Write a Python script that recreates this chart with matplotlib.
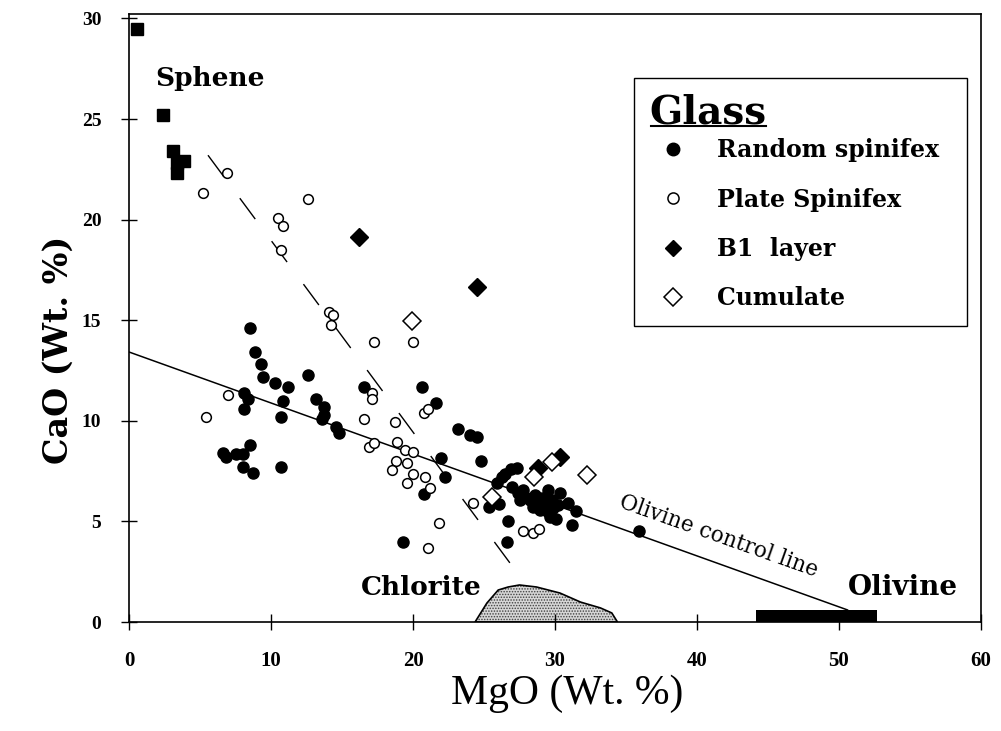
import matplotlib.pyplot as plt
from matplotlib.lines import Line2D

# --- data (MgO, CaO in wt. %) ---
sphene_mgo = [0.56, 2.39, 3.1, 3.87, 3.38, 3.38]
sphene_cao = [29.47, 25.2, 23.4, 22.9, 22.8, 22.3]

random_mgo = [8.5, 8.9, 9.3, 9.4, 10.3, 11.2, 12.6, 8.1, 8.4, 8.1,
              10.85, 10.7, 13.2, 13.7, 13.7, 13.6, 14.6, 14.8, 8.5, 6.6,
              6.8, 7.5, 8.0, 8.0, 8.7, 10.7, 16.55, 20.6, 21.6, 23.2,
              24.0, 24.5, 22.0, 24.8, 22.25, 20.8, 19.3, 25.9, 25.35, 26.05,
              26.7, 26.6, 26.9, 27.3, 26.5, 30.35, 30.9, 31.5, 31.2, 30.1,
              35.9, 27.0, 27.4, 27.75, 27.9, 28.25, 28.6, 28.8, 29.1, 29.3,
              29.5, 29.8, 29.85, 29.65, 28.95, 28.45, 27.55, 30.2, 29.5, 26.3]
random_cao = [14.6, 13.4, 12.8, 12.2, 11.9, 11.7, 12.3, 11.4, 11.1, 10.6,
              11.0, 10.2, 11.1, 10.7, 10.3, 10.1, 9.7, 9.4, 8.8, 8.4,
              8.2, 8.35, 8.35, 7.7, 7.4, 7.7, 11.7, 11.7, 10.9, 9.6,
              9.3, 9.2, 8.15, 8.0, 7.2, 6.35, 4.0, 6.9, 5.7, 5.85,
              5.0, 4.0, 7.6, 7.65, 7.35, 6.4, 5.9, 5.5, 4.8, 5.1,
              4.5, 6.7, 6.4, 6.55, 6.2, 6.05, 6.3, 5.9, 6.15, 5.75,
              5.45, 6.05, 5.65, 5.2, 5.55, 5.7, 6.05, 5.8, 6.55, 7.2]

plate_mgo = [6.9, 5.2, 12.6, 10.5, 10.85, 10.7, 14.1, 14.4, 14.2, 7.0,
             5.4, 17.25, 20.0, 17.1, 17.1, 16.55, 18.7, 20.8, 21.05, 16.9,
             17.25, 18.9, 19.45, 20.0, 18.8, 19.6, 18.5, 20.0, 19.6, 20.85,
             21.2, 21.8, 21.05, 24.2, 27.75, 28.45, 28.85]
plate_cao = [22.3, 21.3, 21.0, 20.1, 19.7, 18.5, 15.4, 15.25, 14.75, 11.3,
             10.2, 13.9, 13.9, 11.4, 11.1, 10.1, 9.95, 10.4, 10.6, 8.7,
             8.9, 8.95, 8.55, 8.45, 8.0, 7.9, 7.55, 7.35, 6.9, 7.2,
             6.65, 4.9, 3.7, 5.9, 4.5, 4.4, 4.6]

b1_mgo = [16.2, 24.5, 28.8, 30.35]
b1_cao = [19.13, 16.65, 7.65, 8.2]

cumulate_mgo = [19.93, 25.56, 28.52, 29.79, 32.25]
cumulate_cao = [14.96, 6.21, 7.21, 7.95, 7.31]

control_mgo = [0.0, 50.6]
control_cao = [13.42, 0.6]

tie_mgo = [5.56, 26.83]
tie_cao = [23.2, 2.93]

chlorite_mgo = [24.37, 25.2, 26.0, 26.7, 27.5, 28.7, 30.35, 31.8, 33.2, 34.0, 34.4]
chlorite_cao = [0.0, 0.94, 1.59, 1.74, 1.84, 1.74, 1.44, 0.99, 0.70, 0.45, 0.0]

olivine_mgo = [44.15, 52.68]
olivine_cao = 0.6

serif = 'DejaVu Serif'
plt.rcParams['hatch.linewidth'] = 0.7

fig = plt.figure(figsize=(10.01, 7.31), dpi=100)
ax = fig.add_axes([0.1289, 0.1491, 0.8511, 0.8312])
ax.set_xlim(0, 60)
ax.set_ylim(0, 30.2)

# chlorite field (stippled) and olivine bar
ax.fill(chlorite_mgo, chlorite_cao, facecolor='#d6d6d6', edgecolor='#404040',
        hatch='......', linewidth=0, zorder=1)
ax.fill(chlorite_mgo, chlorite_cao, fill=False, edgecolor='black', linewidth=1.2, zorder=2)
ax.bar(olivine_mgo[0], olivine_cao, width=olivine_mgo[1] - olivine_mgo[0],
       align='edge', color='black', zorder=3)

# olivine control line and tie-line trend
ax.plot(control_mgo, control_cao, color='black', lw=1.1, zorder=2)
ax.plot(tie_mgo, tie_cao, color='black', lw=1.0, dashes=(18.7, 19.8), zorder=2)

ax.plot(sphene_mgo, sphene_cao, ls='none', marker='s', ms=9, color='black', zorder=4)
ax.plot(random_mgo, random_cao, ls='none', marker='o', ms=8, color='black', zorder=4)
ax.plot(plate_mgo, plate_cao, ls='none', marker='o', ms=7, mfc='white', mec='black',
        mew=1.1, zorder=5)
ax.plot(b1_mgo, b1_cao, ls='none', marker='D', ms=9, color='black', zorder=6)
ax.plot(cumulate_mgo, cumulate_cao, ls='none', marker='D', ms=9, mfc='white', mec='black',
        mew=1.1, zorder=7)

# labels on the plot
ax.text(1.85, 26.65, 'Sphene', family=serif, weight='bold', fontsize=19, va='baseline')
ax.text(16.34, 1.34, 'Chlorite', family=serif, weight='bold', fontsize=19, va='baseline')
ax.text(50.63, 1.34, 'Olivine', family=serif, weight='bold', fontsize=20, va='baseline')
ax.text(41.5, 4.25, 'Olivine control line', family=serif, fontsize=15.5,
        rotation=-19.5, rotation_mode='anchor', ha='center', va='center')

# axes styling
for s in ax.spines.values():
    s.set_linewidth(1.2)
ax.set_xticks(range(0, 61, 10))
ax.set_yticks(range(0, 31, 5))
ax.tick_params(axis='both', direction='inout', length=12, width=1.0)
ax.tick_params(axis='x', pad=15)
ax.tick_params(axis='y', pad=14)
for lab in ax.get_xticklabels():
    lab.set_fontfamily('Liberation Serif')
    lab.set_fontweight('bold')
    lab.set_fontsize(15)
for lab in ax.get_yticklabels():
    lab.set_fontfamily('Liberation Serif')
    lab.set_fontweight('bold')
    lab.set_fontsize(14)

ax.set_xlabel('MgO (Wt. %)', family='Liberation Serif', fontsize=30, va='center')
ax.xaxis.set_label_coords(0.514, -0.118)
ax.set_ylabel('CaO (Wt. %)', family=serif, weight='bold', fontsize=24, va='center')
ax.yaxis.set_label_coords(-0.083, 0.448)

# legend
handles = [
    Line2D([], [], ls='none', marker='o', ms=9, color='black'),
    Line2D([], [], ls='none', marker='o', ms=8, mfc='white', mec='black', mew=1.1),
    Line2D([], [], ls='none', marker='D', ms=8, color='black'),
    Line2D([], [], ls='none', marker='D', ms=9, mfc='white', mec='black', mew=1.1),
]
labels = ['Random spinifex', 'Plate Spinifex', 'B1  layer', 'Cumulate']
leg = ax.legend(handles, labels, loc='upper left', bbox_to_anchor=(0.593, 0.885, 0.391, 0.01),
                mode='expand', title='Glass', alignment='left',
                title_fontproperties={'family': serif, 'weight': 'bold', 'size': 28},
                prop={'family': serif, 'weight': 'bold', 'size': 17},
                fancybox=False, edgecolor='black', framealpha=1, borderpad=0.65,
                labelspacing=1.07, handlelength=1.95, handletextpad=0.91, borderaxespad=0)
leg.get_frame().set_linewidth(1.0)
leg._legend_box.sep = 5

# underline the legend title
fig.canvas.draw()
tb = leg.get_title().get_window_extent()
uy = tb.y0 + 6
inv = fig.transFigure.inverted()
(x0, y0), (x1, _) = inv.transform([(tb.x0 + 1, uy), (tb.x1 - 1, uy)])
fig.add_artist(Line2D([x0, x1], [y0, y0], color='black', lw=1.5))

fig.savefig('out.png', dpi=100)
